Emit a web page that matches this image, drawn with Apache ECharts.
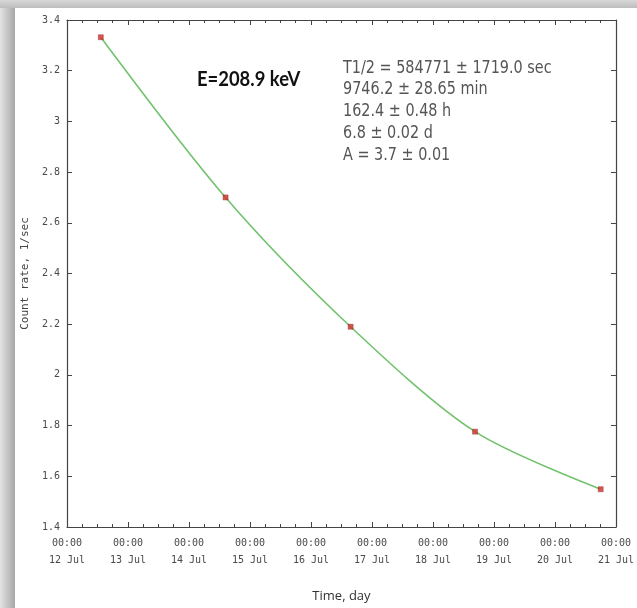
<!DOCTYPE html>
<html><head><meta charset="utf-8">
<script src="https://cdn.jsdelivr.net/npm/echarts@6/dist/echarts.min.js"></script>
<style>html,body{margin:0;padding:0;background:#fff}#c{width:637px;height:608px}</style>
</head><body><div id="c"></div>
<script>
// ---- data ----
const times = ['2014-07-12T13:18:00Z','2014-07-14T14:24:00Z','2014-07-16T15:36:00Z','2014-07-18T16:34:00Z','2014-07-20T18:00:00Z'];
const rates = [3.332, 2.700, 2.190, 1.776, 1.549];
const xStart = '2014-07-12T00:00:00Z';
const xEnd = '2014-07-21T00:00:00Z';
const energyLabel = 'E=208.9 keV';
const statLines = ['T1/2 = 584771 \u00b1 1719.0 sec','9746.2 \u00b1 28.65 min','162.4 \u00b1 0.48 h','6.8 \u00b1 0.02 d','A = 3.7 \u00b1 0.01'];
const xName = 'Time, day';
const yName = 'Count rate, 1/sec';
const yMin = 1.4, yMax = 3.4, yStep = 0.2;
const months = ['Jan','Feb','Mar','Apr','May','Jun','Jul','Aug','Sep','Oct','Nov','Dec'];

const DAY = 86400000;
const pts = times.map((t,i)=>[Date.parse(t), rates[i]]);
const fmt = v => { const d = new Date(v); const hh=String(d.getUTCHours()).padStart(2,'0'); const mm=String(d.getUTCMinutes()).padStart(2,'0'); return hh+':'+mm+'\n'+d.getUTCDate()+' '+months[d.getUTCMonth()]; };
const axisCol = '#444';
const lblStyle = {fontFamily:'DejaVu Sans Mono', fontSize:10, color:'#4a4a4a'};

function xAx(pos, show){
  return {type:'value', position:pos, min:Date.parse(xStart), max:Date.parse(xEnd), interval:DAY,
    axisLine:{show:true,onZero:false,lineStyle:{color:axisCol,width:1.2}},
    axisTick:{show:true,inside:true,length:5,lineStyle:{color:axisCol}},
    minorTick:{show:true,splitNumber:4,length:3,lineStyle:{color:axisCol}},
    splitLine:{show:false}, minorSplitLine:{show:false},
    axisLabel: show ? Object.assign({formatter:fmt, lineHeight:17, margin:8}, lblStyle) : {show:false},
    name: show ? xName : '', nameLocation:'middle', nameGap:63,
    nameTextStyle:{fontFamily:'Open Sans', fontSize:13, color:'#333'}};
}
function yAx(pos, show){
  return {type:'value', position:pos, min:yMin, max:yMax, interval:yStep,
    axisLine:{show:true,onZero:false,lineStyle:{color:axisCol,width:1.2}},
    axisTick:{show:true,inside:true,length:5,lineStyle:{color:axisCol}},
    splitLine:{show:false},
    axisLabel: show ? Object.assign({margin:7}, lblStyle) : {show:false},
    name: show ? yName : '', nameLocation:'middle', nameGap:33, nameRotate:90,
    nameTextStyle:{fontFamily:'DejaVu Sans Mono', fontSize:11, color:'#444'}};
}

const chart = echarts.init(document.getElementById('c'), null, {renderer:'canvas'});
chart.setOption({
  animation:false,
  backgroundColor:'#fff',
  grid:{left:67, right:17, top:20, bottom:81},
  xAxis:[xAx('bottom',true), xAx('top',false)],
  yAxis:[yAx('left',true), yAx('right',false)],
  series:[
    {type:'line', data:pts, smooth:0.3, showSymbol:false, lineStyle:{color:'#72c26e', width:1.6}, z:2},
    {type:'scatter', data:pts, symbol:'rect', symbolSize:5, itemStyle:{color:'#d2302a', borderColor:'#8a1a14', borderWidth:0.5}, z:3}
  ],
  graphic:[
    {type:'rect', left:0, top:0, shape:{x:0,y:0,width:15,height:608}, silent:true,
      style:{fill:new echarts.graphic.LinearGradient(0,0,1,0,[{offset:0,color:'#e4e4e4'},{offset:1,color:'#a6a6a6'}])}},
    {type:'rect', left:0, top:0, shape:{x:0,y:0,width:637,height:8}, silent:true,
      style:{fill:new echarts.graphic.LinearGradient(0,0,0,1,[{offset:0,color:'#d8d8d8'},{offset:1,color:'#bdbdbd'}])}},
    {type:'text', x:197, y:79.5, scaleX:0.92, style:{text:energyLabel, fontFamily:'Lato', fontWeight:'bold', fontSize:20, fill:'#111', textAlign:'left', textVerticalAlign:'middle'}},
    {type:'text', x:343, y:57, scaleX:0.8, style:{text:statLines.join('\n'), fontFamily:'DejaVu Sans', fontSize:18, lineHeight:21.8, fill:'#555', textAlign:'left', textVerticalAlign:'top'}}
  ]
});
</script></body></html>
